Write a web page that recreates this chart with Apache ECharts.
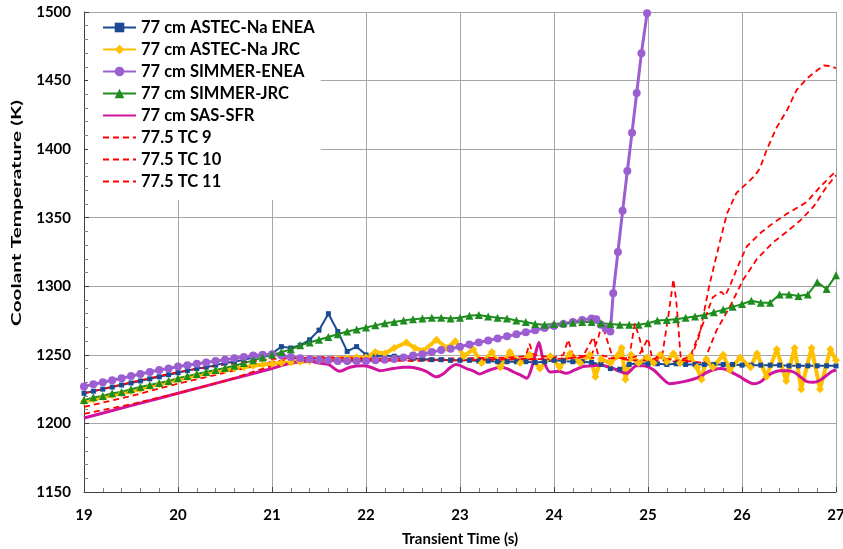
<!DOCTYPE html>
<html><head><meta charset="utf-8">
<script src="https://cdn.jsdelivr.net/npm/echarts@6/dist/echarts.min.js"></script>
<style>html,body{margin:0;padding:0;background:#fff}#c{width:843px;height:549px}</style>
</head><body><div id="c"></div>
<script>
var seriesNames = ['77 cm ASTEC-Na ENEA','77 cm ASTEC-Na JRC','77 cm SIMMER-ENEA','77 cm SIMMER-JRC','77 cm SAS-SFR','77.5 TC 9','77.5 TC 10','77.5 TC 11'];
var xTicks = [19,20,21,22,23,24,25,26,27];
var yTicks = [1150,1200,1250,1300,1350,1400,1450,1500];
var yTitle = 'Coolant Temperature (K)';
var xTitle = 'Transient Time (s)';

var astecEnea = [[19.0,1222],[19.1,1223.5],[19.2,1225],[19.3,1226.5],[19.4,1228],[19.5,1229.5],[19.6,1231],[19.7,1232.5],[19.8,1234],[19.9,1235.5],[20.0,1237],[20.1,1238.5],[20.2,1240],[20.3,1241],[20.4,1242.5],[20.5,1244],[20.6,1245],[20.7,1246.5],[20.8,1248],[20.9,1249.5],[21.0,1251],[21.1,1256],[21.2,1255],[21.3,1257],[21.4,1261],[21.5,1268],[21.6,1280],[21.7,1267],[21.8,1252.5],[21.9,1256],[22.0,1250],[22.1,1249],[22.2,1249.5],[22.3,1249],[22.4,1248],[22.5,1247.5],[22.6,1247],[22.7,1246.5],[22.8,1246.5],[22.9,1246],[23.0,1246],[23.1,1246],[23.2,1245.5],[23.3,1245.5],[23.4,1245],[23.5,1245],[23.6,1245],[23.7,1245],[23.8,1244.5],[23.9,1245],[24.0,1246],[24.1,1245.5],[24.2,1245],[24.3,1245],[24.4,1244.5],[24.5,1243],[24.6,1240],[24.7,1239.5],[24.8,1243],[24.9,1244],[25.0,1243.5],[25.1,1243.5],[25.2,1243],[25.3,1243.5],[25.4,1243],[25.5,1243],[25.6,1243],[25.7,1243],[25.8,1243],[25.9,1243],[26.0,1242.5],[26.1,1242.5],[26.2,1242.5],[26.3,1242.5],[26.4,1242.5],[26.5,1242],[26.6,1242],[26.7,1242],[26.8,1242],[26.9,1242],[27.0,1242]];

var astecJrc = [[19.0,1216],[19.1,1217.5],[19.2,1219],[19.3,1220.5],[19.4,1222],[19.5,1223.5],[19.6,1225],[19.7,1227],[19.8,1228.5],[19.9,1230],[20.0,1232],[20.1,1233.5],[20.2,1235],[20.3,1236.5],[20.4,1238],[20.5,1239],[20.6,1240],[20.7,1241],[20.8,1242],[20.9,1243],[21.0,1243.5],[21.1,1244],[21.2,1244.5],[21.3,1245],[21.4,1245.5],[21.5,1246],[21.6,1246.5],[21.7,1247],[21.8,1247.5],[21.9,1248],[22.0,1248],[22.1,1252],[22.2,1251],[22.3,1255],[22.43,1259],[22.52,1255],[22.61,1253],[22.75,1261],[22.86,1255],[22.95,1260],[23.04,1249],[23.14,1254],[23.23,1244],[23.34,1252],[23.43,1241],[23.53,1252],[23.64,1244],[23.74,1250],[23.85,1240],[23.96,1249],[24.06,1241],[24.17,1251],[24.28,1244],[24.38,1250],[24.44,1234],[24.5,1247],[24.6,1244],[24.67,1249],[24.72,1255],[24.76,1232],[24.82,1250],[24.9,1244],[24.99,1248],[25.06,1244],[25.13,1250],[25.2,1245],[25.27,1251],[25.34,1244],[25.45,1249],[25.52,1241],[25.57,1232],[25.62,1247],[25.69,1241],[25.8,1250],[25.87,1239],[25.98,1248],[26.09,1241],[26.16,1251],[26.26,1234],[26.37,1254],[26.47,1231],[26.56,1255],[26.63,1225],[26.74,1255],[26.83,1225],[26.94,1254],[27.0,1246]];

var simmerEnea = [[19.0,1227],[19.1,1228.5],[19.2,1230],[19.3,1231.5],[19.4,1233],[19.5,1234.5],[19.6,1236],[19.7,1237.5],[19.8,1239],[19.9,1240],[20.0,1241.5],[20.1,1242.5],[20.2,1243.5],[20.3,1244.5],[20.4,1245.5],[20.5,1246.5],[20.6,1247.5],[20.7,1248.5],[20.8,1249.5],[20.9,1250],[21.0,1250.5],[21.1,1249.5],[21.2,1248.5],[21.3,1247.5],[21.4,1247],[21.5,1246.5],[21.6,1246],[21.7,1245.5],[21.8,1245.5],[21.9,1245.5],[22.0,1245.5],[22.1,1246],[22.2,1246.5],[22.3,1247],[22.4,1248],[22.5,1249.5],[22.6,1250.5],[22.7,1252],[22.8,1253.5],[22.9,1254.5],[23.0,1256],[23.1,1257.5],[23.2,1259],[23.3,1260.5],[23.4,1262],[23.5,1263.5],[23.6,1265],[23.7,1266.5],[23.8,1268],[23.9,1269.5],[24.0,1271],[24.1,1272.5],[24.2,1274],[24.3,1275.5],[24.4,1276.5],[24.45,1276],[24.5,1272],[24.55,1269],[24.6,1267],[24.63,1295],[24.68,1325],[24.73,1355],[24.78,1384],[24.83,1412],[24.88,1441],[24.93,1470],[24.99,1499]];

var simmerJrc = [[19.0,1217],[19.1,1219],[19.2,1220],[19.3,1222],[19.4,1223],[19.5,1225],[19.6,1226.5],[19.7,1228],[19.8,1229.5],[19.9,1231],[20.0,1233],[20.1,1234.5],[20.2,1236],[20.3,1237.5],[20.4,1239],[20.5,1240.5],[20.6,1242],[20.7,1244],[20.8,1246],[20.9,1248],[21.0,1250],[21.1,1252],[21.2,1254],[21.3,1257],[21.4,1259],[21.5,1261],[21.6,1263],[21.7,1265],[21.8,1267],[21.9,1268.5],[22.0,1270],[22.1,1271.5],[22.2,1273],[22.3,1274],[22.4,1275],[22.5,1276],[22.6,1276.5],[22.7,1277],[22.8,1277],[22.9,1276.5],[23.0,1277],[23.1,1278.5],[23.2,1279],[23.3,1278],[23.4,1277],[23.5,1276.5],[23.6,1275],[23.7,1274],[23.8,1272.5],[23.9,1272],[24.0,1272.5],[24.1,1273],[24.2,1273.5],[24.3,1274],[24.4,1274],[24.5,1273],[24.6,1272.5],[24.7,1272],[24.8,1272],[24.9,1272],[25.0,1273],[25.1,1275],[25.2,1275.5],[25.3,1276],[25.4,1277],[25.5,1278],[25.6,1279],[25.7,1281],[25.8,1283],[25.9,1285],[26.0,1287],[26.1,1289.5],[26.2,1288],[26.3,1288],[26.4,1294],[26.5,1294],[26.6,1293],[26.7,1294],[26.8,1303],[26.9,1298],[27.0,1308]];

var sasSfr = [[19.0,1204],[19.5,1213],[20.0,1222],[20.5,1231],[21.0,1240],[21.2,1244],[21.4,1245.5],[21.5,1244],[21.6,1243],[21.72,1238],[21.83,1241],[21.97,1242],[22.05,1241],[22.15,1238.5],[22.29,1240],[22.4,1241],[22.47,1241],[22.55,1240],[22.64,1238],[22.75,1234],[22.82,1236],[22.9,1241],[22.96,1243],[23.07,1240],[23.15,1238],[23.21,1236],[23.28,1238],[23.43,1241],[23.5,1240],[23.57,1237.5],[23.65,1235],[23.71,1233],[23.76,1240],[23.8,1250],[23.84,1259],[23.88,1248],[23.96,1237.5],[24.05,1238],[24.13,1236.5],[24.22,1239],[24.31,1241.5],[24.4,1242],[24.49,1242.5],[24.6,1241],[24.7,1238],[24.77,1236.5],[24.88,1242],[24.95,1242],[25.06,1239],[25.15,1233],[25.23,1229],[25.3,1229.5],[25.38,1230.5],[25.47,1232],[25.55,1234],[25.62,1237],[25.69,1239],[25.78,1240],[25.87,1238],[25.98,1234],[26.05,1231],[26.12,1229],[26.19,1230],[26.26,1234],[26.33,1237],[26.4,1238.5],[26.48,1238.5],[26.55,1237.5],[26.62,1234],[26.69,1230.5],[26.76,1230],[26.83,1231.5],[26.9,1235],[26.96,1238],[27.0,1239]];

var tc9 = [[19.0,1222],[19.5,1230],[20.0,1237.5],[20.5,1243],[21.0,1247],[21.5,1248],[22.0,1247],[22.5,1246.5],[23.0,1246],[23.5,1247],[23.8,1247],[24.0,1246],[24.2,1248],[24.4,1250],[24.47,1262],[24.51,1273],[24.56,1262],[24.62,1249],[24.8,1246],[25.0,1246],[25.15,1249],[25.22,1280],[25.27,1305],[25.3,1290],[25.32,1273],[25.35,1246],[25.45,1246],[25.55,1265],[25.65,1300],[25.77,1334],[25.84,1353],[25.94,1368],[26.05,1375],[26.14,1381],[26.19,1386],[26.26,1399],[26.37,1416],[26.48,1428.5],[26.58,1443],[26.69,1451.5],[26.8,1457.5],[26.87,1461],[26.95,1460.5],[27.0,1459]];

var tc10 = [[19.0,1212],[19.5,1220],[20.0,1229],[20.5,1237],[21.0,1245],[21.5,1248.5],[22.0,1247.5],[22.5,1247],[23.0,1247.5],[23.5,1248],[23.7,1249],[23.74,1258],[23.78,1250],[24.0,1248],[24.1,1250],[24.15,1261],[24.2,1250],[24.5,1247],[24.8,1248],[24.86,1273],[24.91,1262],[24.96,1248],[25.1,1246],[25.3,1245],[25.45,1249],[25.57,1270],[25.69,1292],[25.78,1296],[25.82,1293],[25.87,1300],[25.94,1312],[26.05,1329],[26.19,1338.5],[26.33,1346],[26.48,1353],[26.58,1357],[26.69,1361.5],[26.83,1372.5],[26.97,1382],[27.0,1384]];

var tc11 = [[19.0,1207],[19.5,1214],[20.0,1222],[20.5,1231],[21.0,1242],[21.5,1246],[22.0,1246],[22.5,1245.5],[23.0,1246],[23.5,1246.5],[24.0,1247],[24.3,1248],[24.42,1263],[24.47,1250],[24.7,1247],[24.9,1249],[25.0,1262],[25.04,1249],[25.3,1246],[25.5,1245],[25.59,1244],[25.73,1268],[25.87,1285],[26.01,1304.5],[26.16,1320],[26.33,1332],[26.48,1340],[26.62,1348],[26.76,1358],[26.9,1372.5],[27.0,1381]];

var FONT = 'Lato, "Open Sans", sans-serif';
var chart = echarts.init(document.getElementById('c'), null, {renderer:'canvas'});

function mk(name, data, color, symbol, size, width, dashed, smooth) {
  return {
    name: name, type: 'line', data: data, smooth: smooth || false,
    symbol: symbol || 'none', symbolSize: size || 0, showSymbol: !!symbol,
    color: color,
    lineStyle: {color: color, width: width, type: dashed ? [6,4] : 'solid'},
    itemStyle: {color: color, borderWidth: 0},
    emphasis: {disabled: true}, animation: false
  };
}

var legendData = seriesNames.map(function (n, i) {
  return i >= 4 ? {name: n, itemStyle: {opacity: 0}} : {name: n};
});

chart.setOption({
  animation: false,
  backgroundColor: '#fff',
  grid: {left: 84, right: 7, top: 12, bottom: 57, outerBoundsMode: 'none', containLabel: false},
  legend: {
    orient: 'vertical', left: 88, top: 13,
    backgroundColor: '#fff', padding: [6, 6, 10, 14],
    itemWidth: 33, itemHeight: 12, itemGap: 5,
    data: legendData,
    textStyle: {fontFamily: FONT, fontWeight: 'bold', fontSize: 16.5, color: '#000'}
  },
  graphic: [{
    type: 'text', x: 17, y: 213, rotation: Math.PI / 2, scaleX: 1.6, z: 10,
    style: {text: yTitle, font: 'bold 13px Lato, "Open Sans", sans-serif', fill: '#000',
      align: 'center', verticalAlign: 'middle'}
  }],
  xAxis: {
    type: 'value', min: xTicks[0], max: xTicks[xTicks.length-1], interval: 1,
    name: xTitle, nameLocation: 'middle', nameGap: 40,
    nameTextStyle: {fontFamily: FONT, fontWeight: 'bold', fontSize: 15, color: '#000'},
    axisLine: {lineStyle: {color: '#404040', width: 1}},
    axisTick: {show: true, inside: true, length: 5, lineStyle: {color: '#404040'}},
    minorTick: {show: true, splitNumber: 5, length: 4, lineStyle: {color: '#808080'}},
    splitLine: {show: true, lineStyle: {color: '#A6A6A6', width: 1}},
    axisLabel: {fontFamily: FONT, fontWeight: 'bold', fontSize: 15, color: '#000', margin: 16,
      formatter: function (v) { return String(v); }}
  },
  yAxis: {
    type: 'value', min: yTicks[0], max: yTicks[yTicks.length-1], interval: 50,
    axisLine: {show: true, lineStyle: {color: '#404040', width: 1}},
    axisTick: {show: true, inside: true, length: 5, lineStyle: {color: '#404040'}},
    minorTick: {show: true, splitNumber: 5, length: 4, lineStyle: {color: '#808080'}},
    splitLine: {show: true, lineStyle: {color: '#A6A6A6', width: 1}},
    axisLabel: {fontFamily: FONT, fontWeight: 'bold', fontSize: 15, color: '#000', margin: 13,
      formatter: function (v) { return String(v); }}
  },
  series: [
    mk(seriesNames[0], astecEnea, '#1A4A94', 'rect', 5, 2),
    mk(seriesNames[1], astecJrc, '#FFC000', 'diamond', 8, 4),
    mk(seriesNames[2], simmerEnea, '#9C5FD1', 'circle', 8, 3),
    mk(seriesNames[3], simmerJrc, '#1E8C1E', 'triangle', 8, 2),
    mk(seriesNames[4], sasSfr, '#D0149C', null, 0, 3, false, 0.3),
    mk(seriesNames[5], tc9, '#FF0000', null, 0, 1.8, true),
    mk(seriesNames[6], tc10, '#FF0000', null, 0, 1.8, true),
    mk(seriesNames[7], tc11, '#FF0000', null, 0, 1.8, true)
  ]
});
</script></body></html>
